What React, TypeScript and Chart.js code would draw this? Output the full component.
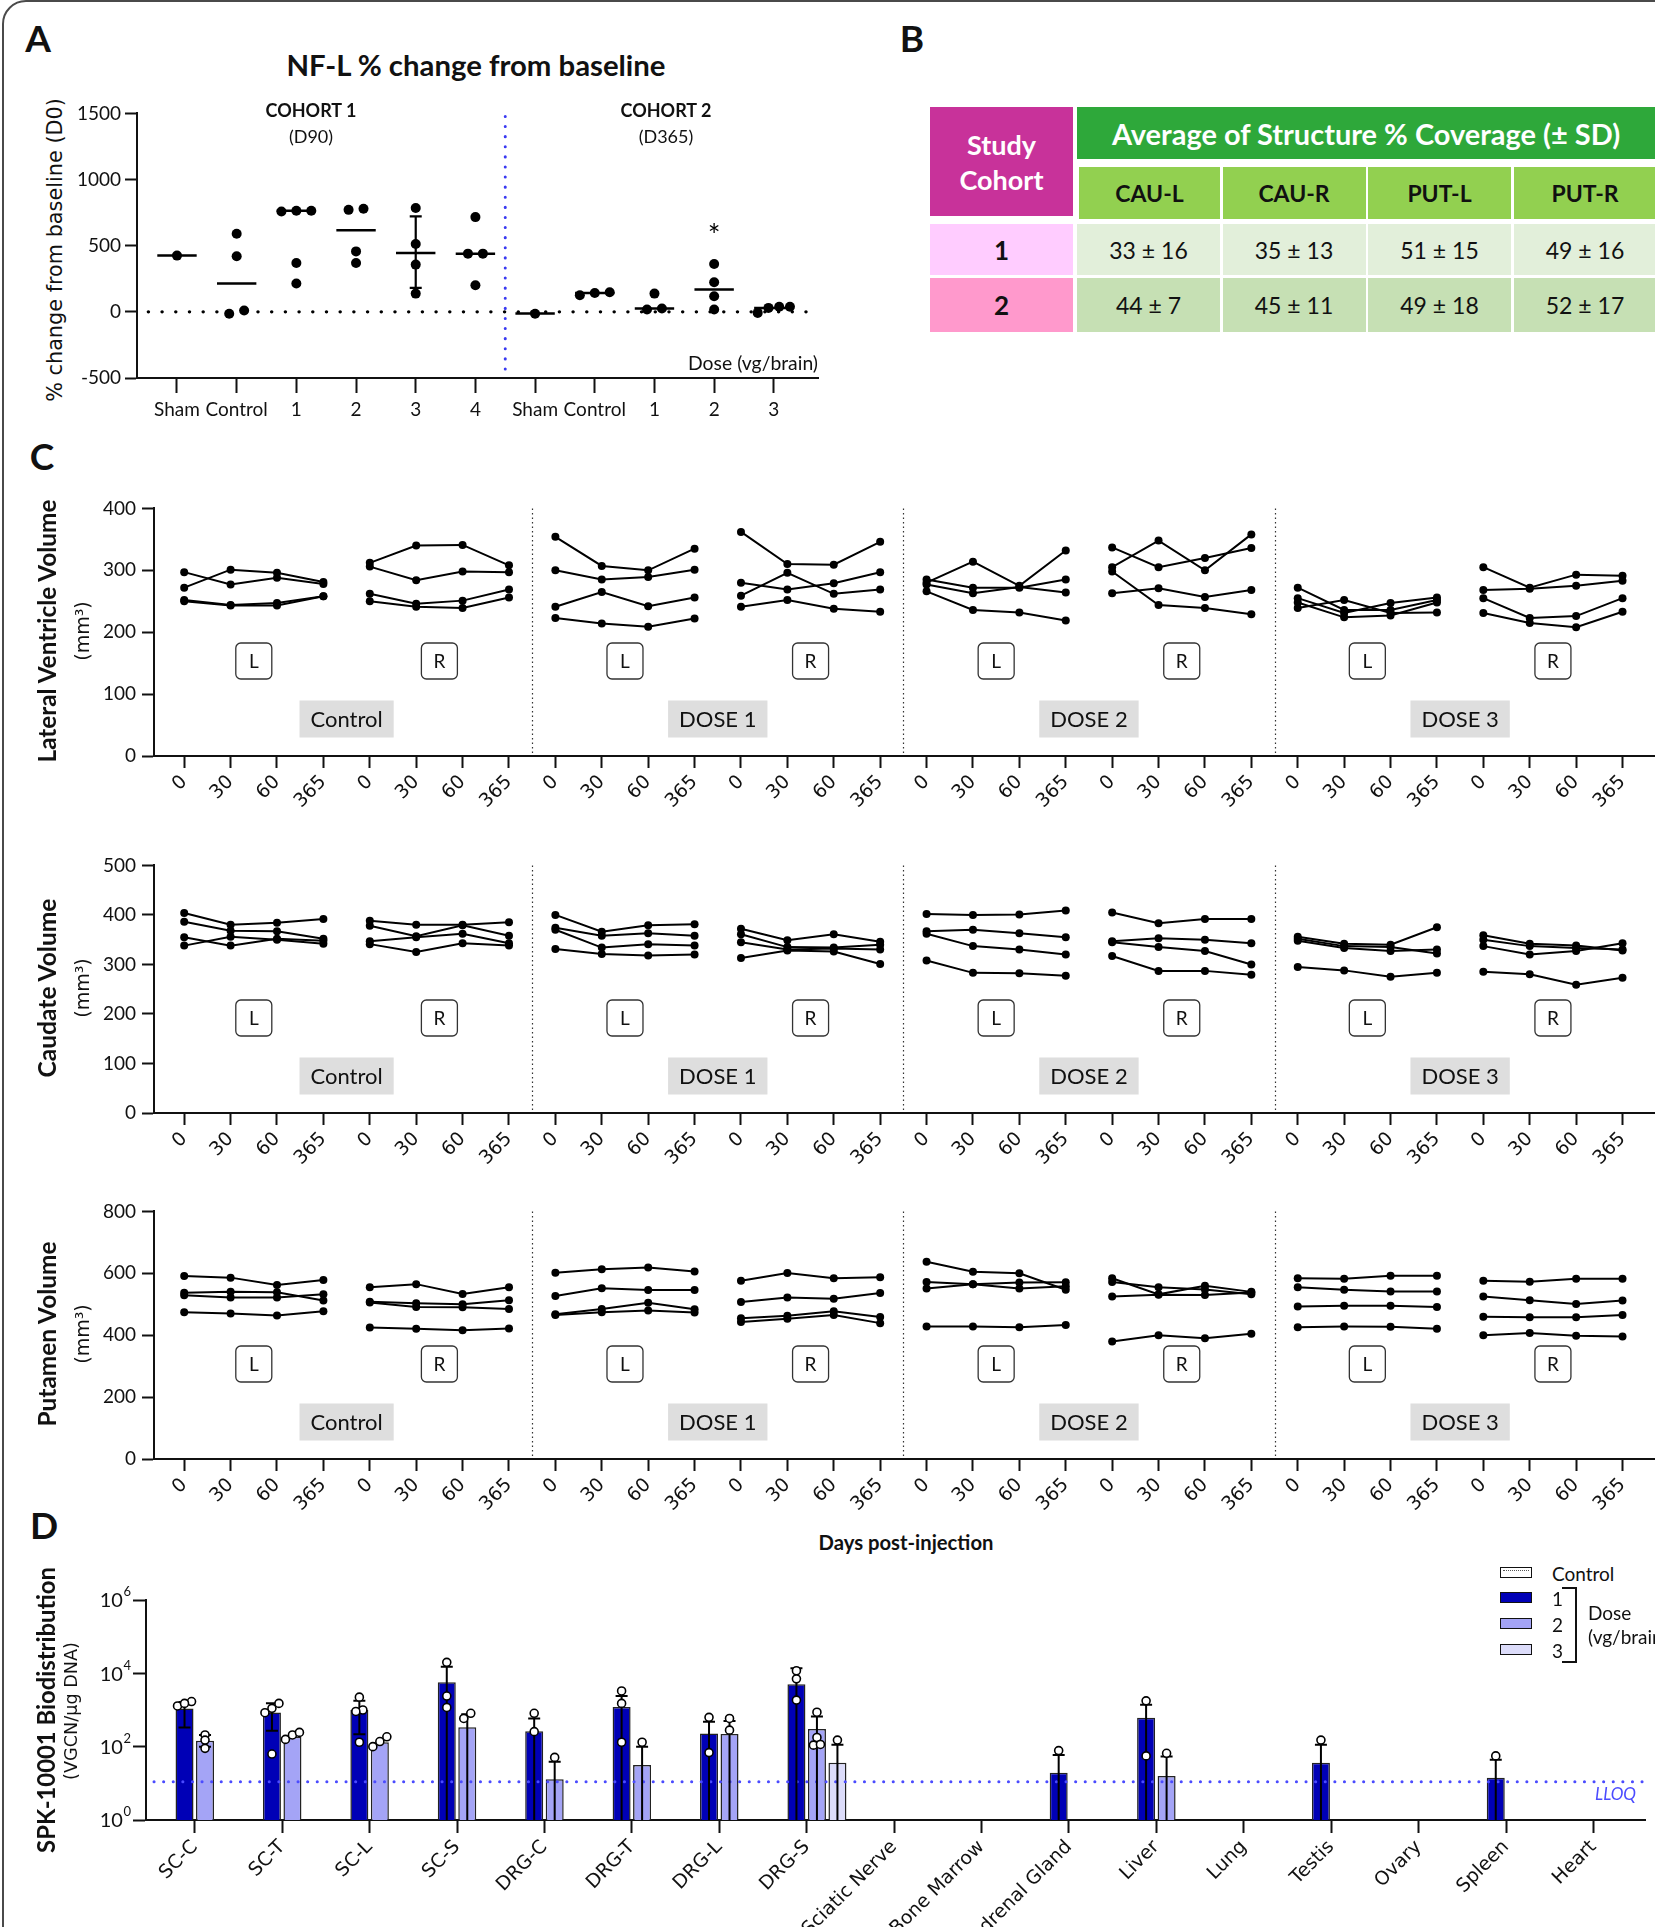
import React, { useEffect, useRef } from "react";
import { Chart, registerables } from "chart.js";

Chart.register(...registerables);

const LATO = "Lato, 'Noto Sans', sans-serif";
const DEJAVU = "'DejaVu Sans', Verdana, sans-serif";

// ---------------- Panel A : NF-L % change from baseline ----------------
const nflCategories = ["Sham", "Control", "1", "2", "3", "4", "Sham", "Control", "1", "2", "3"];
const nflValues: number[][] = [
  [425],
  [590, 420, -15, 10],
  [764, 764, 759, 369, 214],
  [771, 779, 457, 369],
  [785, 513, 357, 138],
  [716, 440, 440, 201],
  [-15],
  [126, 148, 143],
  [138, 18, 25],
  [362, 224, 118, 18],
  [-8, 38, 30, 38],
];
const nflMedians = [425, 214, 764, 616, 445, 440, -13, 143, 25, 168, 30];
const nflSdLow: (number | null)[] = [null, null, null, null, 181, null, null, null, null, null, null];
const nflSdHigh: (number | null)[] = [null, null, null, null, 721, null, null, null, null, null, null];
const nflSignificant = [false, false, false, false, false, false, false, false, false, true, false];
const nflYTicks = [-500, 0, 500, 1000, 1500];
const nflCohorts = ["COHORT 1", "COHORT 2"];
const nflCohortDays = ["(D90)", "(D365)"];

// ---------------- Panel B : coverage table ----------------
const coverageStructures = ["CAU-L", "CAU-R", "PUT-L", "PUT-R"];
const coverageCohorts = ["1", "2"];
const coverageMeans = [
  [33, 35, 51, 49],
  [44, 45, 49, 52],
];
const coverageSDs = [
  [16, 13, 15, 16],
  [7, 11, 18, 17],
];

// ---------------- Panel C : volumes (block = group x side, 4 animals x 4 days) ----------------
const dayLabels = ["0", "30", "60", "365"];
const sideLabels = ["L", "R"];
const groupLabels = ["Control", "DOSE 1", "DOSE 2", "DOSE 3"];
const lateralVentricle: number[][][] = [
  [[297, 277, 288, 278], [272, 301, 296, 281], [252, 244, 247, 258], [250, 243, 243, 258]],
  [[312, 340, 341, 308], [306, 284, 298, 297], [262, 246, 251, 269], [250, 241, 239, 256]],
  [[354, 307, 300, 335], [300, 285, 289, 301], [241, 265, 242, 256], [223, 214, 209, 222]],
  [[362, 310, 309, 346], [280, 269, 279, 297], [259, 296, 262, 269], [241, 252, 238, 233]],
  [[280, 314, 275, 332], [285, 272, 272, 285], [277, 263, 273, 264], [266, 236, 232, 219]],
  [[337, 305, 320, 336], [305, 348, 300, 358], [298, 244, 239, 229], [263, 271, 257, 268]],
  [[272, 236, 236, 252], [255, 231, 247, 256], [248, 224, 227, 248], [239, 252, 231, 232]],
  [[305, 272, 293, 291], [268, 270, 275, 283], [255, 223, 226, 255], [231, 215, 208, 233]],
];
const caudate: number[][][] = [
  [[404, 380, 384, 392], [386, 368, 367, 352], [355, 338, 352, 348], [338, 356, 350, 342]],
  [[388, 380, 380, 385], [378, 357, 379, 358], [347, 355, 362, 343], [341, 325, 343, 338]],
  [[400, 366, 379, 381], [374, 358, 363, 358], [370, 334, 341, 338], [331, 321, 318, 320]],
  [[372, 349, 361, 346], [361, 335, 334, 340], [345, 330, 332, 330], [313, 328, 326, 301]],
  [[402, 400, 401, 409], [367, 370, 363, 355], [362, 337, 330, 320], [308, 283, 282, 277]],
  [[405, 383, 392, 392], [347, 353, 350, 343], [345, 335, 327, 300], [317, 287, 287, 279]],
  [[356, 342, 340, 375], [352, 337, 335, 322], [348, 333, 327, 330], [295, 288, 275, 283]],
  [[359, 342, 338, 328], [350, 337, 333, 330], [337, 320, 327, 343], [285, 280, 259, 273]],
];
const putamen: number[][][] = [
  [[591, 586, 562, 578], [537, 540, 539, 512], [529, 522, 522, 532], [474, 470, 464, 477]],
  [[555, 565, 533, 555], [508, 503, 500, 513], [506, 491, 490, 485], [425, 421, 416, 422]],
  [[602, 613, 619, 606], [527, 552, 546, 546], [468, 485, 505, 484], [465, 474, 480, 473]],
  [[576, 601, 584, 587], [507, 522, 518, 536], [455, 463, 477, 459], [443, 453, 465, 439]],
  [[637, 605, 600, 547], [572, 565, 551, 558], [551, 565, 570, 571], [428, 428, 426, 433]],
  [[584, 532, 560, 540], [572, 555, 548, 532], [525, 531, 530, 538], [380, 400, 390, 405]],
  [[584, 582, 592, 592], [555, 547, 541, 541], [493, 495, 495, 491], [426, 428, 427, 421]],
  [[576, 573, 582, 582], [525, 513, 501, 512], [460, 458, 458, 465], [400, 407, 398, 396]],
];

// ---------------- Panel D : biodistribution ----------------
const N = null;
const tissues = ["SC-C", "SC-T", "SC-L", "SC-S", "DRG-C", "DRG-T", "DRG-L", "DRG-S", "Sciatic Nerve", "Bone Marrow", "Adrenal Gland", "Liver", "Lung", "Testis", "Ovary", "Spleen", "Heart"];
const doseLegend = ["Control", "1", "2", "3"];
const dose1Mean = [1096, 850, 1000, 5690, 262, 1202, 229, 5012, N, N, 19.5, 617, N, 36.3, N, 14.3, N];
const dose1Upper = [1660, 1520, 1780, 15100, 589, 2400, 479, 13800, N, N, 59, 1380, N, 112, N, 44, N];
const dose1Lower = [331, 273, 218, 0, 0, 0, 0, 0, N, N, 0, 0, N, 0, N, 0, N];
const dose1Points: number[][] = [[1288, 1698, 1514], [1110, 63, 843, 1514], [1000, 2239, 912, 132], [19950, 2400, 1175], [813, 257], [3311, 1514, 132], [631, 69], [11750, 7080, 1862], [], [], [78], [1778, 56], [], [151], [], [56], []];
const dose2Mean = [146, 187, 132, 337, 12.9, 31.6, 221, 302, N, N, N, 15.8, N, N, N, N, N];
const dose2Upper = [209, N, N, 760, 39, 100, 500, 661, N, N, N, 54, N, N, N, N, N];
const dose2Lower = [100, N, N, 0, 0, 0, 0, 0, N, N, N, 0, N, N, N, N, N];
const dose2Points: number[][] = [[209, 90, 151], [158, 209, 245], [100, 138, 186], [589, 813], [51], [132], [589, 282], [871, 178, 110, 115], [], [], [], [66], [], [], [], [], []];
const dose3Mean = [N, N, N, N, N, N, N, 36.3, N, N, N, N, N, N, N, N, N];
const dose3Upper = [N, N, N, N, N, N, N, 112, N, N, N, N, N, N, N, N, N];
const dose3Lower = [N, N, N, N, N, N, N, 0, N, N, N, N, N, N, N, N, N];
const dose3Points: number[][] = [[], [], [], [], [], [], [], [151], [], [], [], [], [], [], [], [], []];
const bioExponents = [0, 2, 4, 6];
const lloqValue = 11;

const DOSE_COLORS = ["#0000b6", "#a4a4f6", "#dcdcfa"];

// ---------------- helpers ----------------
let measureCtx: CanvasRenderingContext2D | null = null;
function fitSize(text: string, weight: string, family: string, target: number, italic = false) {
  if (!measureCtx) measureCtx = document.createElement("canvas").getContext("2d");
  const base = 40;
  measureCtx!.font = `${italic ? "italic " : ""}${weight} ${base}px ${family}`;
  const w = measureCtx!.measureText(text).width;
  return w > 0 ? (base * target) / w : 20;
}

function swarm(values: number[], threshold: number, step: number, maxSpread: number) {
  const order = values.map((_, i) => i).sort((a, b) => values[a] - values[b]);
  const offsets = new Array(values.length).fill(0);
  let cluster: number[] = [];
  const flush = () => {
    const n = cluster.length;
    if (n > 1) {
      const s = Math.min(step, maxSpread / (n - 1));
      cluster.forEach((idx, j) => {
        offsets[idx] = (j - (n - 1) / 2) * s;
      });
    }
    cluster = [];
  };
  order.forEach((idx) => {
    if (cluster.length && values[idx] - values[cluster[cluster.length - 1]] >= threshold) flush();
    cluster.push(idx);
  });
  flush();
  return offsets;
}

const axisBorder = { display: true, color: "#111", width: 2 };
function tickGrid(len: number) {
  return { display: true, drawOnChartArea: false, drawTicks: true, tickLength: len, tickWidth: 2, tickColor: "#111", color: "#111", offset: false };
}

type Margins = { yW: number; xH: number; pad: { l: number; t: number; r: number; b: number } };

function baseOptions(m: Margins) {
  return {
    animation: false,
    responsive: false,
    maintainAspectRatio: false,
    events: [],
    layout: { padding: { left: m.pad.l, top: m.pad.t, right: m.pad.r, bottom: m.pad.b } },
    plugins: { legend: { display: false }, tooltip: { enabled: false }, title: { display: false } },
  };
}

function ChartCanvas(props: { area: { l: number; t: number; r: number; b: number }; m: Margins; build: (c: HTMLCanvasElement, m: Margins) => Chart }) {
  const ref = useRef<HTMLCanvasElement>(null);
  const { area, m } = props;
  const left = area.l - m.yW - m.pad.l;
  const top = area.t - m.pad.t;
  const width = area.r - area.l + m.yW + m.pad.l + m.pad.r;
  const height = area.b - area.t + m.xH + m.pad.t + m.pad.b;
  useEffect(() => {
    const chart = props.build(ref.current!, m);
    return () => chart.destroy();
  }, []);
  return <canvas ref={ref} width={width} height={height} style={{ position: "absolute", left, top, width, height }} />;
}

function T(props: { x: number; y: number; children: any; size?: number; weight?: string; family?: string; color?: string; align?: "center" | "left" | "right"; rotate?: number; italic?: boolean; fit?: number }) {
  const { x, y, children, weight = "normal", family = LATO, color = "#111", align = "center", rotate = 0, italic = false, fit } = props;
  let size = props.size ?? 20;
  if (fit && typeof children === "string") size = fitSize(children, weight, family, fit, italic);
  const tx = align === "center" ? "-50%" : align === "right" ? "-100%" : "0";
  return (
    <div
      style={{
        position: "absolute",
        left: x,
        top: y,
        transform: `translate(${tx}, -50%) rotate(${rotate}deg)`,
        fontSize: size,
        fontWeight: weight as any,
        fontFamily: family,
        fontStyle: italic ? "italic" : "normal",
        color,
        whiteSpace: "nowrap",
        lineHeight: 1,
      }}
    >
      {children}
    </div>
  );
}

// ---------------- Panel A chart ----------------
const nflDecor = {
  id: "nflDecor",
  afterDatasetsDraw(chart: any) {
    const { ctx, scales } = chart;
    const xs = scales.x, ys = scales.y;
    ctx.save();
    ctx.strokeStyle = "#000";
    ctx.lineWidth = 2.2;
    nflSdLow.forEach((lo, i) => {
      const hi = nflSdHigh[i];
      if (lo == null || hi == null) return;
      const px = xs.getPixelForValue(i);
      const y1 = ys.getPixelForValue(lo);
      const y2 = ys.getPixelForValue(hi);
      ctx.beginPath();
      ctx.moveTo(px, y1); ctx.lineTo(px, y2);
      ctx.moveTo(px - 6, y1); ctx.lineTo(px + 6, y1);
      ctx.moveTo(px - 6, y2); ctx.lineTo(px + 6, y2);
      ctx.stroke();
    });
    nflSignificant.forEach((sig, i) => {
      if (!sig) return;
      const top = Math.max(...nflValues[i]);
      ctx.fillStyle = "#000";
      ctx.font = "30px Lato";
      ctx.textAlign = "center";
      ctx.textBaseline = "middle";
      ctx.fillText("*", xs.getPixelForValue(i), ys.getPixelForValue(top) - 28);
    });
    ctx.restore();
  },
};

function buildNfl(canvas: HTMLCanvasElement, m: Margins) {
  const points: any[] = [];
  nflValues.forEach((vals, i) => {
    const offs = swarm(vals, 60, 0.25, 0.54);
    vals.forEach((v, k) => points.push({ x: i + offs[k], y: v }));
  });
  const medians: any[] = [];
  nflMedians.forEach((v, i) => medians.push({ x: i - 0.33, y: v }, { x: i + 0.33, y: v }, { x: i + 0.4, y: null }));
  const last = nflCategories.length - 1;
  return new Chart(canvas, {
    type: "scatter",
    data: {
      datasets: [
        { type: "scatter", data: points, pointRadius: 5, pointHoverRadius: 5, pointBackgroundColor: "#000", pointBorderWidth: 0 } as any,
        { type: "line", data: medians, borderColor: "#000", borderWidth: 2.5, pointRadius: 0, spanGaps: false, fill: false } as any,
        { type: "line", data: [{ x: -0.48, y: 0 }, { x: last + 0.55, y: 0 }], borderColor: "#000", borderWidth: 3.4, borderDash: [0.1, 13.6], borderCapStyle: "round", pointRadius: 0 } as any,
        { type: "line", data: [{ x: 5.5, y: -432 }, { x: 5.5, y: 1500 }], borderColor: "#3a3af2", borderWidth: 3, borderDash: [0.1, 10], borderCapStyle: "round", pointRadius: 0 } as any,
      ],
    },
    options: {
      ...baseOptions(m),
      scales: {
        x: {
          type: "linear", min: -0.67, max: last + 0.74, offset: false,
          afterBuildTicks: (s: any) => { s.ticks = nflCategories.map((_, i) => ({ value: i })); },
          afterFit: (s: any) => { s.height = m.xH; },
          ticks: { autoSkip: false, maxRotation: 0, minRotation: 0, padding: 5, color: "#111", font: { family: "Lato", size: 19 }, callback: (v: any) => nflCategories[Math.round(v)] ?? "" },
          grid: tickGrid(15), border: axisBorder,
        },
        y: {
          type: "linear", min: -500, max: 1500,
          afterBuildTicks: (s: any) => { s.ticks = nflYTicks.map((v) => ({ value: v })); },
          afterFit: (s: any) => { s.width = m.yW; },
          ticks: { padding: 4, color: "#111", font: { family: "Lato", size: 19 }, callback: (v: any) => String(v) },
          grid: tickGrid(12), border: axisBorder,
        },
      },
    } as any,
    plugins: [nflDecor as any],
  });
}

// ---------------- Panel C charts ----------------
const volumeDecor = {
  id: "volumeDecor",
  beforeDatasetsDraw(chart: any) {
    const { ctx, chartArea, scales } = chart;
    const xs = scales.x;
    const perGroup = sideLabels.length * dayLabels.length;
    ctx.save();
    ctx.strokeStyle = "#333";
    ctx.lineWidth = 1.2;
    ctx.setLineDash([1.5, 3]);
    for (let g = 1; g < groupLabels.length; g++) {
      const px = Math.round(xs.getPixelForValue(g * perGroup - 0.5)) + 0.5;
      ctx.beginPath();
      ctx.moveTo(px, chartArea.top);
      ctx.lineTo(px, chartArea.bottom);
      ctx.stroke();
    }
    ctx.setLineDash([]);
    groupLabels.forEach((gl, g) => {
      sideLabels.forEach((sl, s) => {
        const cx = xs.getPixelForValue(g * perGroup + s * dayLabels.length + (dayLabels.length - 1) / 2);
        const cy = chartArea.bottom - 95;
        ctx.beginPath();
        (ctx as any).roundRect(cx - 18, cy - 18, 36, 36, 5);
        ctx.fillStyle = "#fff";
        ctx.fill();
        ctx.strokeStyle = "#333";
        ctx.lineWidth = 1.3;
        ctx.stroke();
        ctx.fillStyle = "#111";
        ctx.font = "19px Lato";
        ctx.textAlign = "center";
        ctx.textBaseline = "middle";
        ctx.fillText(sl, cx, cy + 1);
      });
      const gx = xs.getPixelForValue(g * perGroup + (perGroup - 1) / 2);
      const gy = chartArea.bottom - 37;
      ctx.font = "22px Lato";
      const tw = ctx.measureText(gl).width;
      ctx.fillStyle = "#dedede";
      ctx.fillRect(gx - tw / 2 - 11, gy - 18.5, tw + 22, 37);
      ctx.fillStyle = "#111";
      ctx.textAlign = "center";
      ctx.textBaseline = "middle";
      ctx.fillText(gl, gx, gy + 1);
    });
    ctx.restore();
  },
};

function buildVolume(values: number[][][], yMax: number, yStep: number) {
  return (canvas: HTMLCanvasElement, m: Margins) => {
    const datasets: any[] = [];
    values.forEach((block, b) =>
      block.forEach((animal) =>
        datasets.push({
          data: animal.map((v, k) => ({ x: b * dayLabels.length + k, y: v })),
          borderColor: "#000", backgroundColor: "#000", borderWidth: 2,
          pointRadius: 4, pointHoverRadius: 4, pointBackgroundColor: "#000", pointBorderWidth: 0, fill: false, tension: 0,
        })
      )
    );
    const nTicks = values.length * dayLabels.length;
    const yTicks: number[] = [];
    for (let v = 0; v <= yMax; v += yStep) yTicks.push(v);
    return new Chart(canvas, {
      type: "line",
      data: { datasets },
      options: {
        ...baseOptions(m),
        scales: {
          x: {
            type: "linear", min: -0.651, max: 31.7, offset: false,
            afterBuildTicks: (s: any) => { s.ticks = Array.from({ length: nTicks }, (_, i) => ({ value: i })); },
            afterFit: (s: any) => { s.height = m.xH; },
            ticks: { autoSkip: false, maxRotation: 45, minRotation: 45, padding: 3, color: "#111", font: { family: "DejaVu Sans", size: 19 }, callback: (v: any) => dayLabels[Math.round(v) % dayLabels.length] },
            grid: tickGrid(12), border: axisBorder,
          },
          y: {
            type: "linear", min: 0, max: yMax,
            afterBuildTicks: (s: any) => { s.ticks = yTicks.map((v) => ({ value: v })); },
            afterFit: (s: any) => { s.width = m.yW; },
            ticks: { padding: 6, color: "#111", font: { family: "Lato", size: 19 }, callback: (v: any) => String(v) },
            grid: tickGrid(12), border: axisBorder,
          },
        },
      } as any,
      plugins: [volumeDecor as any],
    });
  };
}

// ---------------- Panel D chart ----------------
const doseSeries = [
  { mean: dose1Mean, upper: dose1Upper, lower: dose1Lower, points: dose1Points },
  { mean: dose2Mean, upper: dose2Upper, lower: dose2Lower, points: dose2Points },
  { mean: dose3Mean, upper: dose3Upper, lower: dose3Lower, points: dose3Points },
];

const bioDecor = {
  id: "bioDecor",
  afterDatasetsDraw(chart: any) {
    const { ctx, chartArea, scales } = chart;
    const ys = scales.y;
    ctx.save();
    // LLOQ
    ctx.strokeStyle = "#4b4bff";
    ctx.lineWidth = 3;
    ctx.setLineDash([0.1, 9.5]);
    ctx.lineCap = "round";
    const ly = ys.getPixelForValue(lloqValue);
    ctx.beginPath();
    ctx.moveTo(chartArea.left + 8, ly);
    ctx.lineTo(chartArea.right - 2, ly);
    ctx.stroke();
    ctx.setLineDash([]);
    ctx.lineCap = "butt";
    doseSeries.forEach((series, k) => {
      const meta = chart.getDatasetMeta(k + 1);
      series.mean.forEach((mv, i) => {
        if (mv == null) return;
        const bar = meta.data[i];
        const px = bar.x;
        const hi = series.upper[i];
        const lo = series.lower[i];
        ctx.strokeStyle = "#000";
        ctx.lineWidth = 2;
        if (hi != null) {
          const yh = ys.getPixelForValue(hi);
          const yl = lo != null && lo > 0 ? ys.getPixelForValue(lo) : lo === 0 ? chartArea.bottom : ys.getPixelForValue(mv);
          ctx.beginPath();
          ctx.moveTo(px, yl); ctx.lineTo(px, yh);
          ctx.moveTo(px - 6, yh); ctx.lineTo(px + 6, yh);
          if (lo != null && lo > 0) { ctx.moveTo(px - 6, yl); ctx.lineTo(px + 6, yl); }
          ctx.stroke();
        }
        const pts = series.points[i];
        const offs = swarm(pts.map((v) => Math.log10(v)), 0.14, 7, 14);
        pts.forEach((v, j) => {
          ctx.beginPath();
          ctx.arc(px + offs[j], ys.getPixelForValue(v), 4, 0, Math.PI * 2);
          ctx.fillStyle = "#fff";
          ctx.fill();
          ctx.lineWidth = 1.6;
          ctx.strokeStyle = "#000";
          ctx.stroke();
        });
      });
    });
    // y tick labels 10^n
    const left = chartArea.left;
    ctx.fillStyle = "#111";
    bioExponents.forEach((e) => {
      const py = ys.getPixelForValue(Math.pow(10, e));
      ctx.font = "13px Lato";
      const ew = ctx.measureText(String(e)).width;
      ctx.textAlign = "left";
      ctx.textBaseline = "middle";
      ctx.fillText(String(e), left - 15 - ew, py - 8);
      ctx.font = "20px Lato";
      ctx.textAlign = "right";
      ctx.fillText("10", left - 15 - ew - 0.5, py + 1);
    });
    ctx.restore();
  },
};

function buildBio(canvas: HTMLCanvasElement, m: Margins) {
  const means = [tissues.map(() => null), dose1Mean, dose2Mean, dose3Mean];
  const colors = ["#ffffff", ...DOSE_COLORS];
  const datasets = means.map((arr, k) => ({
    label: doseLegend[k],
    data: tissues.map((_, i) => ({ x: i, y: arr[i] })),
    backgroundColor: colors[k],
    borderColor: "#222",
    borderWidth: 1.5,
    borderSkipped: "bottom",
    barPercentage: 0.878,
    categoryPercentage: 0.938,
  }));
  const last = tissues.length - 1;
  return new Chart(canvas, {
    type: "bar",
    data: { datasets: datasets as any },
    options: {
      ...baseOptions(m),
      scales: {
        x: {
          type: "linear", min: -0.558, max: last + 0.59, offset: false,
          afterBuildTicks: (s: any) => { s.ticks = tissues.map((_, i) => ({ value: i })); },
          afterFit: (s: any) => { s.height = m.xH; },
          ticks: { autoSkip: false, maxRotation: 45, minRotation: 45, padding: 3, color: "#111", font: { family: "DejaVu Sans", size: 19 }, callback: (v: any) => tissues[Math.round(v)] ?? "" },
          grid: tickGrid(13), border: axisBorder,
        },
        y: {
          type: "logarithmic", min: 1, max: 1e6,
          afterBuildTicks: (s: any) => { s.ticks = bioExponents.map((e) => ({ value: Math.pow(10, e) })); },
          afterFit: (s: any) => { s.width = m.yW; },
          ticks: { callback: () => "" },
          grid: tickGrid(13), border: axisBorder,
        },
      },
    } as any,
    plugins: [bioDecor as any],
  });
}

// ---------------- layout ----------------
const volRows = [
  { values: lateralVentricle, yMax: 400, yStep: 100, t: 506, b: 756, title: "Lateral Ventricle Volume", titleLen: 265 },
  { values: caudate, yMax: 500, yStep: 100, t: 863, b: 1113, title: "Caudate Volume", titleLen: 180 },
  { values: putamen, yMax: 800, yStep: 200, t: 1209, b: 1459, title: "Putamen Volume", titleLen: 186 },
];

function Table() {
  const colL = (j: number) => 1077 + j * 145.5;
  const rowTop = [224, 278];
  const rowH = [51, 54];
  const labelBg = ["#ffccff", "#ff99cc"];
  const dataBg = ["#e2efda", "#c6e0b4"];
  const base: any = { position: "absolute", display: "flex", alignItems: "center", justifyContent: "center", fontFamily: LATO, textAlign: "center" };
  return (
    <>
      <div style={{ ...base, left: 930, top: 107, width: 143, height: 109, background: "#c8329a", color: "#fff", fontWeight: 700, fontSize: 27, lineHeight: "35px" }}>
        Study<br />Cohort
      </div>
      <div style={{ ...base, left: 1077, top: 107, width: 578, height: 52, background: "#2ea83a" }} />
      <T x={1366} y={134} weight="bold" color="#fff" fit={509}>Average of Structure % Coverage (± SD)</T>
      {coverageStructures.map((s, j) => (
        <div key={s} style={{ ...base, left: colL(j) + (j === 0 ? 2 : 0), top: 167, width: 143 - (j === 0 ? 2 : 0), height: 52, background: "#92d050", color: "#111", fontWeight: 700, fontSize: 23 }}>
          {s}
        </div>
      ))}
      {coverageCohorts.map((c, r) => (
        <React.Fragment key={c}>
          <div style={{ ...base, left: 930, top: rowTop[r], width: 143, height: rowH[r], background: labelBg[r], color: "#111", fontWeight: 700, fontSize: 26 }}>{c}</div>
          {coverageMeans[r].map((v, j) => (
            <div key={j} style={{ ...base, left: colL(j), top: rowTop[r], width: 143, height: rowH[r], background: dataBg[r], color: "#111", fontSize: 23 }}>
              {`${v} ± ${coverageSDs[r][j]}`}
            </div>
          ))}
        </React.Fragment>
      ))}
    </>
  );
}

function Legend() {
  const tops = [1567, 1592, 1618, 1644];
  return (
    <>
      {doseLegend.map((lab, k) => (
        <React.Fragment key={lab}>
          <div style={{ position: "absolute", left: 1500, top: tops[k], width: 32, height: 11, boxSizing: "border-box", border: "1.5px solid #111", background: k === 0 ? "#fff" : DOSE_COLORS[k - 1] }}>
            {k === 0 ? <div style={{ position: "absolute", left: 2, top: 2, right: 2, bottom: 2, borderTop: "1.5px dotted #555" }} /> : null}
          </div>
          <T x={1552} y={tops[k] + 6} size={19} align="left">{lab}</T>
        </React.Fragment>
      ))}
      <div style={{ position: "absolute", left: 1575, top: 1587, width: 2, height: 76, background: "#111" }} />
      <div style={{ position: "absolute", left: 1562, top: 1587, width: 15, height: 2, background: "#111" }} />
      <div style={{ position: "absolute", left: 1562, top: 1661, width: 15, height: 2, background: "#111" }} />
      <T x={1588} y={1612} size={19} align="left">Dose</T>
      <T x={1588} y={1636} size={19} align="left">(vg/brain)</T>
    </>
  );
}

export default function App() {
  const volM: Margins = { yW: 125, xH: 65, pad: { l: 4, t: 15, r: 10, b: 0 } };
  return (
    <div style={{ position: "absolute", left: 0, top: 0, width: 1655, height: 1927, overflow: "hidden", background: "#fff", fontFamily: LATO }}>
      <div style={{ position: "absolute", left: 2, top: 0, width: 1720, height: 2000, boxSizing: "border-box", border: "2px solid #4a4a4a", borderRadius: 24 }} />

      {/* panel letters */}
      <T x={38} y={37} size={37} weight="bold">A</T>
      <T x={912} y={37} size={37} weight="bold">B</T>
      <T x={42} y={455} size={37} weight="bold">C</T>
      <T x={44} y={1524} size={37} weight="bold">D</T>

      {/* Panel A */}
      <T x={476} y={65} weight="bold" fit={380}>NF-L % change from baseline</T>
      <T x={55} y={250} family={DEJAVU} rotate={-90} fit={304}>% change from baseline (D0)</T>
      <ChartCanvas area={{ l: 137, t: 113, r: 818, b: 378 }} m={{ yW: 110, xH: 50, pad: { l: 5, t: 15, r: 12, b: 5 } }} build={buildNfl} />
      {nflCohorts.map((c, i) => (
        <React.Fragment key={c}>
          <T x={[311, 666][i]} y={110} size={18} weight="bold">{c}</T>
          <T x={[311, 666][i]} y={136} size={18}>{nflCohortDays[i]}</T>
        </React.Fragment>
      ))}
      <T x={818} y={363} align="right" fit={130}>Dose (vg/brain)</T>

      {/* Panel B */}
      <Table />

      {/* Panel C */}
      {volRows.map((row) => (
        <React.Fragment key={row.title}>
          <ChartCanvas area={{ l: 154, t: row.t, r: 1655, b: row.b }} m={volM} build={buildVolume(row.values, row.yMax, row.yStep)} />
          <T x={47} y={(row.t + row.b) / 2} weight="bold" rotate={-90} fit={row.titleLen}>{row.title}</T>
          <T x={82} y={(row.t + row.b) / 2} family={DEJAVU} rotate={-90} size={19}>(mm³)</T>
        </React.Fragment>
      ))}
      <T x={906} y={1542} weight="bold" fit={175}>Days post-injection</T>

      {/* Panel D */}
      <ChartCanvas area={{ l: 146, t: 1600, r: 1645, b: 1820 }} m={{ yW: 110, xH: 120, pad: { l: 5, t: 15, r: 10, b: 0 } }} build={buildBio} />
      <T x={46} y={1710} weight="bold" rotate={-90} fit={286}>SPK-10001 Biodistribution</T>
      <T x={72} y={1711} family={DEJAVU} rotate={-90} fit={138}>(VGCN/μg DNA)</T>
      <T x={1636} y={1793} align="right" italic size={17} color="#4b4bff">LLOQ</T>
      <Legend />
    </div>
  );
}
